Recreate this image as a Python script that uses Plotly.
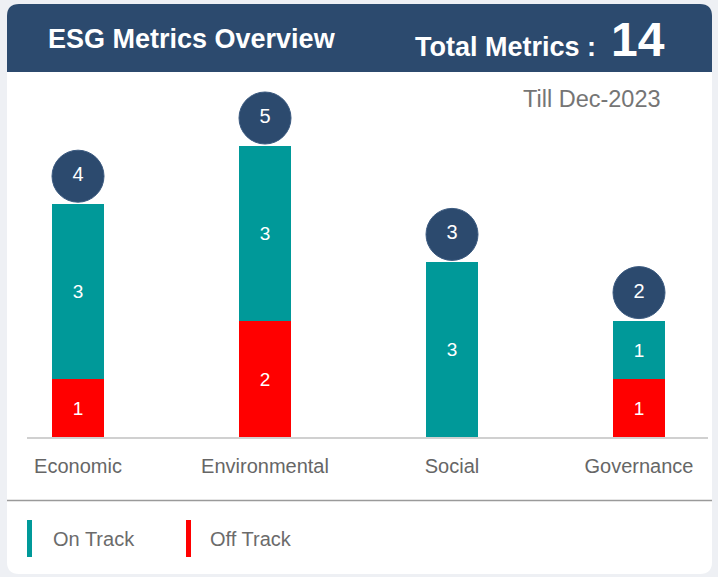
import plotly.graph_objects as go

categories = ["Economic", "Environmental", "Social", "Governance"]
on_track = [3, 3, 3, 1]
off_track = [1, 2, 0, 1]
series_names = ["On Track", "Off Track"]
title_text = "ESG Metrics Overview"
period_text = "Till Dec-2023"

totals = [a + b for a, b in zip(on_track, off_track)]
grand_total = sum(totals)

W, H = 718, 577
ML, MR, MT, MB = 27, 10, 72, 140
PW, PH = W - ML - MR, H - MT - MB

HEADER = "#2c4a6e"
TEAL = "#009999"
RED = "#ff0000"
FONT = "Liberation Sans, Arial, sans-serif"


def px(x):
    return (x - ML) / PW


def py(y):
    return (H - MB - y) / PH


def rounded_path(x0, y0, x1, y1, r, top_only=False):
    pts = []
    pts.append(f"M {px(x0)},{py(y1 if top_only else y1 - r)}")
    pts.append(f"L {px(x0)},{py(y0 + r)}")
    pts.append(f"Q {px(x0)},{py(y0)} {px(x0 + r)},{py(y0)}")
    pts.append(f"L {px(x1 - r)},{py(y0)}")
    pts.append(f"Q {px(x1)},{py(y0)} {px(x1)},{py(y0 + r)}")
    if top_only:
        pts.append(f"L {px(x1)},{py(y1)}")
    else:
        pts.append(f"L {px(x1)},{py(y1 - r)}")
        pts.append(f"Q {px(x1)},{py(y1)} {px(x1 - r)},{py(y1)}")
        pts.append(f"L {px(x0 + r)},{py(y1)}")
        pts.append(f"Q {px(x0)},{py(y1)} {px(x0)},{py(y1 - r)}")
    pts.append("Z")
    return " ".join(pts)


unit_px = 58.2
fig = go.Figure()
fig.add_trace(go.Bar(
    x=categories, y=off_track, name=series_names[1], marker_color=RED,
    marker_line_width=0, width=0.278,
    text=[str(v) if v else "" for v in off_track], textposition="inside",
    insidetextanchor="middle", textangle=0,
    textfont=dict(color="white", size=19, family=FONT), showlegend=False,
))
fig.add_trace(go.Bar(
    x=categories, y=on_track, name=series_names[0], marker_color=TEAL,
    marker_line_width=0, width=0.278,
    text=[str(v) if v else "" for v in on_track], textposition="inside",
    insidetextanchor="middle", textangle=0,
    textfont=dict(color="white", size=19, family=FONT), showlegend=False,
))
circle_offset = 28 / unit_px
fig.add_trace(go.Scatter(
    x=categories, y=[t + circle_offset for t in totals], mode="markers+text",
    marker=dict(size=52, color=HEADER, line=dict(width=1, color="#3b5a80")),
    text=[str(t) for t in totals], textposition="middle center",
    textfont=dict(color="white", size=20, family=FONT),
    cliponaxis=False, showlegend=False, hoverinfo="skip",
))

shapes = [
    dict(type="path", xref="paper", yref="paper", path=rounded_path(7, 4, 712, 574, 12),
         fillcolor="white", line=dict(width=0), layer="below"),
    dict(type="path", xref="paper", yref="paper", path=rounded_path(7, 4, 712, 72, 12, top_only=True),
         fillcolor=HEADER, line=dict(width=0), layer="below"),
    dict(type="line", xref="paper", yref="paper", x0=px(7), x1=px(712), y0=py(500.5), y1=py(500.5),
         line=dict(color="#9a9a9a", width=1.5)),
    dict(type="rect", xref="paper", yref="paper", x0=px(27), x1=px(32), y0=py(520), y1=py(557),
         fillcolor=TEAL, line=dict(width=0)),
    dict(type="rect", xref="paper", yref="paper", x0=px(186), x1=px(191), y0=py(520), y1=py(557),
         fillcolor=RED, line=dict(width=0)),
]

annotations = [
    dict(text=f"<b>{title_text}</b>", x=px(46), y=py(39), xref="paper", yref="paper",
         xanchor="left", yanchor="middle", showarrow=False,
         font=dict(size=27, color="white", family=FONT)),
    dict(text="<b>Total Metrics :</b>", x=px(598), y=py(47), xref="paper", yref="paper",
         xanchor="right", yanchor="middle", showarrow=False,
         font=dict(size=27, color="white", family=FONT)),
    dict(text=f"<b>{grand_total}</b>", x=px(609), y=py(40), xref="paper", yref="paper",
         xanchor="left", yanchor="middle", showarrow=False,
         font=dict(size=48, color="white", family=FONT)),
    dict(text=period_text, x=px(663), y=py(99), xref="paper", yref="paper",
         xanchor="right", yanchor="middle", showarrow=False,
         font=dict(size=23.5, color="#757575", family=FONT)),
    dict(text=series_names[0], x=px(51), y=py(539), xref="paper", yref="paper",
         xanchor="left", yanchor="middle", showarrow=False,
         font=dict(size=20, color="#6b6b6b", family=FONT)),
    dict(text=series_names[1], x=px(208), y=py(539), xref="paper", yref="paper",
         xanchor="left", yanchor="middle", showarrow=False,
         font=dict(size=20, color="#6b6b6b", family=FONT)),
]

fig.update_layout(
    width=W, height=H, margin=dict(l=ML, r=MR, t=MT, b=MB),
    paper_bgcolor="#eef0f4", plot_bgcolor="rgba(0,0,0,0)",
    barmode="stack", bargap=0, showlegend=False,
    shapes=shapes, annotations=annotations,
    xaxis=dict(type="category", range=[-51 / 187, (PW - 51) / 187], showgrid=False,
               showline=True, linecolor="#d0d0d0", linewidth=2,
               ticks="outside", ticklen=10, tickcolor="rgba(0,0,0,0)",
               tickfont=dict(size=20, color="#666666", family=FONT), fixedrange=True),
    yaxis=dict(range=[0, PH / unit_px], showgrid=False, zeroline=False,
               showticklabels=False, showline=False, fixedrange=True),
)

fig.write_html("out.html", config={"displayModeBar": False},
               post_script="document.body.style.margin='0px';document.body.style.overflow='hidden';")
